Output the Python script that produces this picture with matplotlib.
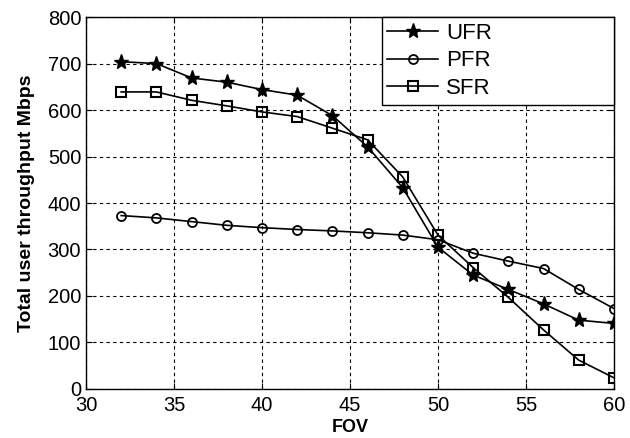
import matplotlib
matplotlib.use("Agg")
import matplotlib.pyplot as plt

fov = [32, 34, 36, 38, 40, 42, 44, 46, 48, 50, 52, 54, 56, 58, 60]
ufr = [704, 700, 669, 660, 644, 632, 588, 521, 433, 305, 245, 214, 183, 148, 141]
pfr = [373, 368, 360, 352, 347, 343, 340, 336, 331, 321, 292, 275, 259, 214, 173]
sfr = [639, 639, 621, 609, 596, 586, 561, 536, 456, 331, 261, 197, 127, 62, 24]

plt.rcParams['font.family'] = ['Liberation Sans', 'DejaVu Sans']

fig = plt.figure(figsize=(6.3, 4.38), dpi=100)
ax = fig.add_axes([0.1365, 0.112, 0.838, 0.849])

ax.plot(fov, ufr, color='black', lw=1.2, marker='*', ms=11, mfc='black', mec='black', label='UFR')
ax.plot(fov, pfr, color='black', lw=1.2, marker='o', ms=6.5, mfc='none', mec='black', mew=1.3, label='PFR')
ax.plot(fov, sfr, color='black', lw=1.2, marker='s', ms=7.5, mfc='none', mec='black', mew=1.5, label='SFR')

ax.set_xlim(30, 60)
ax.set_ylim(0, 800)
ax.set_xticks([30, 35, 40, 45, 50, 55, 60])
ax.set_yticks(range(0, 801, 100))
ax.grid(True, color='black', linestyle=(0, (3, 3)), linewidth=0.8)
ax.tick_params(direction='in', labelsize=14.5, length=4, top=True, right=True)
ax.tick_params(axis='x', pad=5)
ax.set_xlabel('FOV', fontsize=13, fontweight='bold', labelpad=3)
ax.set_ylabel('Total user throughput Mbps', fontsize=14, fontweight='bold', labelpad=9)
for s in ax.spines.values():
    s.set_linewidth(1.0)

leg = ax.legend(loc='upper left', bbox_to_anchor=(0.56, 1.0, 0.44, 0.0), mode='expand',
                borderaxespad=0, fontsize=16, fancybox=False, framealpha=1,
                edgecolor='black', handlelength=2.3, handletextpad=0.35,
                labelspacing=0.3, borderpad=0.25)
leg.get_frame().set_linewidth(1.0)

fig.savefig('out.png', dpi=100)
